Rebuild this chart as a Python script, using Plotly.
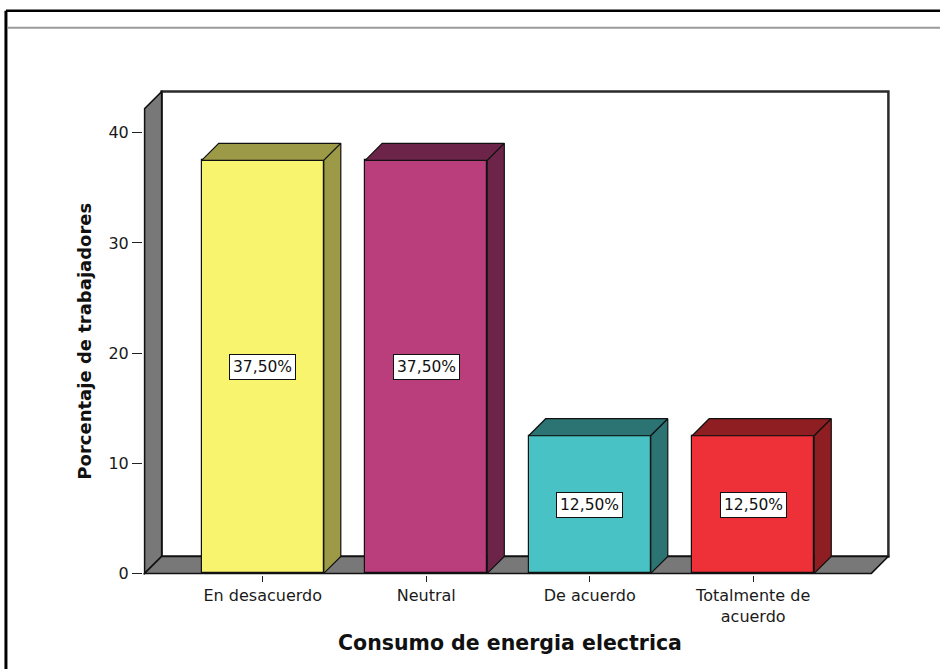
import plotly.graph_objects as go

# ---- data ----
categorias = ["En desacuerdo", "Neutral", "De acuerdo", "Totalmente de<br>acuerdo"]
porcentajes = [37.5, 37.5, 12.5, 12.5]
etiquetas = ["37,50%", "37,50%", "12,50%", "12,50%"]
y_ticks = [0, 10, 20, 30, 40]

color_frente = ["#F8F46E", "#BA3E7C", "#48C2C5", "#EE3038"]
color_sombra = ["#9C9A46", "#6D2449", "#2C7374", "#8E1E22"]

titulo_x = "Consumo de energia electrica"
titulo_y = "Porcentaje de trabajadores"

# ---- layout geometry (pixels) ----
W, H = 940, 669
PX_CAT0, PX_STEP = 263.0, 163.3     # x pixel of first category and spacing
PX_Y0, PX_UNIT = 573.0, 11.0        # pixel of y=0 and pixels per unit
DEPTH = 17.0                        # 3-D depth offset in pixels

dx = DEPTH / PX_STEP
dy = DEPTH / PX_UNIT
x_left, x_right = -0.7226, 3.723    # front plane extent in category units
y_top = 42.2                        # front top of the side wall
bar_w = 0.747

pad_x = 1.6 / PX_STEP
pad_y = 1.6 / PX_UNIT
x_range = [x_left - pad_x, x_right + dx + pad_x]
y_range = [-pad_y, y_top + dy + pad_y]

m_l = PX_CAT0 + x_range[0] * PX_STEP
m_r = W - (PX_CAT0 + x_range[1] * PX_STEP)
m_t = PX_Y0 - y_range[1] * PX_UNIT
m_b = H - (PX_Y0 - y_range[0] * PX_UNIT)


def px_to_paper(px, py):
    return ((px - m_l) / (W - m_l - m_r), ((H - m_b) - py) / (H - m_t - m_b))


def path(pts):
    return "M " + " L ".join(f"{x},{y}" for x, y in pts) + " Z"


FONT = "DejaVu Sans, Arial, sans-serif"
fig = go.Figure()

# front faces of the bars
xs = list(range(len(categorias)))
fig.add_trace(go.Bar(
    x=xs, y=porcentajes, width=bar_w,
    marker=dict(color=color_frente, line=dict(color="#111111", width=1.2)),
    hoverinfo="skip", showlegend=False,
))

# top and side faces of each bar
for i, v in enumerate(porcentajes):
    xl, xr = i - bar_w / 2, i + bar_w / 2
    top = [(xl, v), (xr, v), (xr + dx, v + dy), (xl + dx, v + dy), (xl, v)]
    side = [(xr, 0), (xr, v), (xr + dx, v + dy), (xr + dx, dy), (xr, 0)]
    for poly in (top, side):
        fig.add_trace(go.Scatter(
            x=[p[0] for p in poly], y=[p[1] for p in poly],
            mode="lines", fill="toself", fillcolor=color_sombra[i],
            line=dict(color="#111111", width=1.2),
            hoverinfo="skip", showlegend=False,
        ))

# walls and floor
shapes = [
    # back wall
    dict(type="path", xref="x", yref="y", layer="below",
         path=path([(x_left + dx, dy), (x_right + dx, dy),
                    (x_right + dx, y_top + dy), (x_left + dx, y_top + dy)]),
         fillcolor="white", line=dict(color="#2a2a2a", width=2.5)),
    # left wall
    dict(type="path", xref="x", yref="y", layer="below",
         path=path([(x_left, 0), (x_left, y_top),
                    (x_left + dx, y_top + dy), (x_left + dx, dy)]),
         fillcolor="#787878", line=dict(color="#111111", width=1.5)),
    # floor
    dict(type="path", xref="x", yref="y", layer="below",
         path=path([(x_left, 0), (x_right, 0),
                    (x_right + dx, dy), (x_left + dx, dy)]),
         fillcolor="#787878", line=dict(color="#111111", width=1.5)),
]

# outer frame of the output panel
fx0, fy0 = px_to_paper(6.5, 11)
fx1, fy1 = px_to_paper(W + 5, H + 5)
shapes.append(dict(type="line", xref="paper", yref="paper",
                   x0=fx0, y0=fy0, x1=fx1, y1=fy0,
                   line=dict(color="#000000", width=2.5)))
shapes.append(dict(type="line", xref="paper", yref="paper",
                   x0=fx0, y0=fy0, x1=fx0, y1=fy1,
                   line=dict(color="#000000", width=3)))
gx0, gy0 = px_to_paper(8, 28)
shapes.append(dict(type="line", xref="paper", yref="paper",
                   x0=gx0, y0=gy0, x1=fx1, y1=gy0,
                   line=dict(color="#9a9a9a", width=2)))

annotations = []
for i, v in enumerate(porcentajes):
    annotations.append(dict(
        x=i, y=v / 2, xref="x", yref="y", text=etiquetas[i], showarrow=False,
        font=dict(family=FONT, size=15.5, color="#111111"),
        bgcolor="white", bordercolor="#111111", borderwidth=1, borderpad=3,
    ))

tx, ty = px_to_paper(510, 643)
annotations.append(dict(
    x=tx, y=ty, xref="paper", yref="paper", text=f"<b>{titulo_x}</b>",
    showarrow=False, xanchor="center", yanchor="middle",
    font=dict(family=FONT, size=20.5, color="#111111"),
))
yx, yy = px_to_paper(85, 341)
annotations.append(dict(
    x=yx, y=yy, xref="paper", yref="paper", text=f"<b>{titulo_y}</b>",
    showarrow=False, textangle=-90, xanchor="center", yanchor="middle",
    font=dict(family=FONT, size=18, color="#111111"),
))

fig.update_layout(
    width=W, height=H, autosize=False,
    margin=dict(l=m_l, r=m_r, t=m_t, b=m_b, pad=0),
    paper_bgcolor="white", plot_bgcolor="rgba(0,0,0,0)",
    shapes=shapes, annotations=annotations, showlegend=False,
    bargap=0,
    xaxis=dict(range=x_range, tickvals=xs, ticktext=categorias,
               ticks="outside", ticklen=6, tickwidth=1.2, tickcolor="#222222",
               showgrid=False, zeroline=False, showline=False,
               tickfont=dict(family=FONT, size=16, color="#1a1a1a"),
               fixedrange=True),
    yaxis=dict(range=y_range, tickvals=y_ticks,
               ticks="outside", ticklen=10, tickwidth=1.2, tickcolor="#222222",
               showgrid=False, zeroline=False, showline=False,
               tickfont=dict(family=FONT, size=16, color="#1a1a1a"),
               fixedrange=True),
)

fig.write_html("out.html")
